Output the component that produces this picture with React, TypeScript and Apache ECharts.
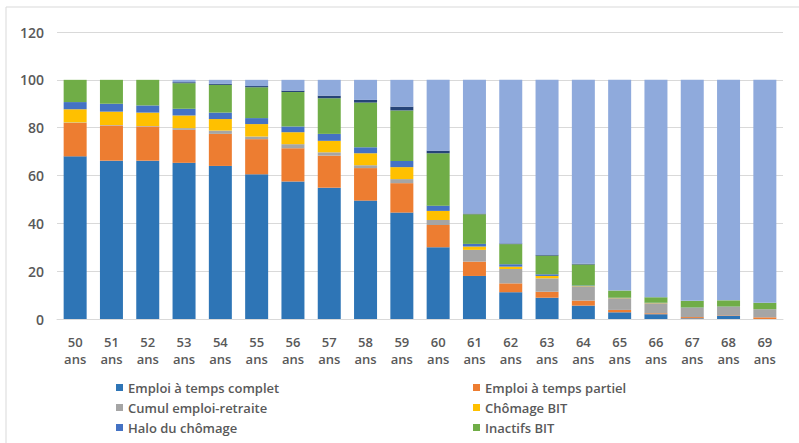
import React, { useEffect, useRef } from "react";
import * as echarts from "echarts";

const categories = ["50 ans","51 ans","52 ans","53 ans","54 ans","55 ans","56 ans","57 ans","58 ans","59 ans","60 ans","61 ans","62 ans","63 ans","64 ans","65 ans","66 ans","67 ans","68 ans","69 ans"];

const tempsComplet = [68, 66.2, 66.2, 65.3, 64.0, 60.5, 57.5, 54.9, 49.5, 44.5, 30.0, 18.0, 11.2, 8.9, 5.6, 2.8, 2.0, 0.3, 1.4, 0];
const tempsPartiel = [14, 14.7, 14.3, 13.8, 13.4, 14.7, 13.9, 13.4, 13.6, 12.3, 9.3, 6.0, 3.7, 2.5, 2.1, 1.0, 0.4, 0.5, 0.2, 0.7];
const cumulEmploiRetraite = [0.2, 0.2, 0.2, 0.7, 1.4, 1.1, 1.7, 1.4, 1.2, 1.7, 2.1, 4.9, 6.0, 5.6, 5.8, 4.9, 4.2, 3.9, 3.5, 3.4];
const chomageBIT = [5.5, 5.6, 5.6, 5.3, 4.8, 5.2, 5.0, 4.8, 5.0, 5.0, 3.8, 1.4, 1.0, 1.0, 0.2, 0.1, 0.1, 0, 0, 0];
const haloChomage = [3, 3.3, 3, 2.8, 2.7, 2.5, 2.4, 2.9, 2.5, 2.6, 2.2, 1.1, 1.0, 0.7, 0.3, 0.1, 0.1, 0.1, 0.1, 0];
const inactifsBIT = [9.3, 10.0, 10.7, 10.7, 11.6, 12.9, 14.4, 14.9, 18.7, 21.1, 21.9, 12.4, 8.4, 7.8, 8.8, 3.0, 2.3, 2.8, 2.6, 2.7];
const autres = [0, 0, 0, 0.4, 0.4, 0.5, 0.6, 1.1, 1.1, 1.6, 1.1, 0.3, 0.3, 0.3, 0.3, 0, 0, 0, 0, 0];
const retraites = [0, 0, 0, 1.0, 1.7, 2.6, 4.5, 6.6, 8.4, 11.2, 29.6, 55.9, 68.4, 73.2, 76.9, 88.1, 90.9, 92.4, 92.2, 93.2];

const yTicks = [0, 20, 40, 60, 80, 100, 120];

const seriesDefs = [
  { name: "Emploi à temps complet", data: tempsComplet, color: "#2E75B6" },
  { name: "Emploi à temps partiel", data: tempsPartiel, color: "#ED7D31" },
  { name: "Cumul emploi-retraite", data: cumulEmploiRetraite, color: "#A5A5A5" },
  { name: "Chômage BIT", data: chomageBIT, color: "#FFC000" },
  { name: "Halo du chômage", data: haloChomage, color: "#4472C4" },
  { name: "Inactifs BIT", data: inactifsBIT, color: "#70AD47" },
  { name: "Autres", data: autres, color: "#264478" },
  { name: "Retraités", data: retraites, color: "#8FAADC" },
];

const FONT = "'Open Sans', 'Liberation Sans', sans-serif";

export default function App() {
  const ref = useRef<HTMLDivElement>(null);
  useEffect(() => {
    if (!ref.current) return;
    const chart = echarts.init(ref.current, null, { renderer: "svg" });
    const legendText = { fontFamily: FONT, fontSize: 13, fontWeight: 600, color: "#595959" };
    chart.setOption({
      animation: false,
      backgroundColor: "#ffffff",
      graphic: [
        {
          type: "rect",
          shape: { x: 6, y: 7, width: 820, height: 460 },
          style: { fill: "none", stroke: "#d9d9d9", lineWidth: 1 },
          silent: true,
        },
      ],
      grid: { left: 57, right: 16, top: 32, bottom: 124 },
      legend: [
        {
          data: ["Emploi à temps complet", "Cumul emploi-retraite", "Halo du chômage"],
          orient: "vertical",
          left: 111,
          top: 376,
          itemWidth: 7,
          itemHeight: 7,
          itemGap: 7,
          itemTextGap: 5,
          icon: "rect",
          textStyle: legendText,
        },
        {
          data: ["Emploi à temps partiel", "Chômage BIT", "Inactifs BIT"],
          orient: "vertical",
          left: 468,
          top: 376,
          itemWidth: 7,
          itemHeight: 7,
          itemGap: 7,
          itemTextGap: 5,
          icon: "rect",
          textStyle: legendText,
        },
      ],
      xAxis: {
        type: "category",
        data: categories,
        axisLine: { show: true, lineStyle: { color: "#d9d9d9" } },
        axisTick: { show: false },
        axisLabel: {
          interval: 0,
          fontFamily: FONT,
          fontSize: 13,
          fontWeight: 600,
          color: "#595959",
          lineHeight: 17,
          margin: 14,
          formatter: (v: string) => v.replace(" ", "\n"),
        },
      },
      yAxis: {
        type: "value",
        min: yTicks[0],
        max: yTicks[yTicks.length - 1],
        interval: 20,
        axisLine: { show: false },
        axisTick: { show: false },
        splitLine: { lineStyle: { color: "#d9d9d9" } },
        axisLabel: { fontFamily: FONT, fontSize: 14, fontWeight: 600, color: "#595959", margin: 13 },
      },
      series: seriesDefs.map((s) => ({
        name: s.name,
        type: "bar",
        stack: "total",
        barWidth: 23,
        data: s.data,
        itemStyle: { color: s.color },
      })),
    });
    return () => chart.dispose();
  }, []);
  return (
    <div
      ref={ref}
      style={{ position: "fixed", left: 0, top: 0, width: 799, height: 443 }}
    />
  );
}
